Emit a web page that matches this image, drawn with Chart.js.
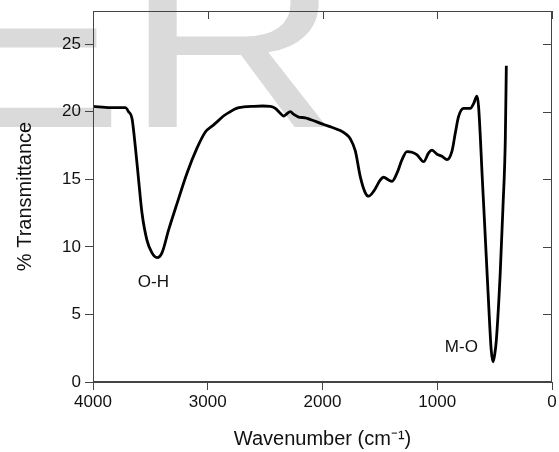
<!DOCTYPE html>
<html>
<head>
<meta charset="utf-8">
<script src="https://cdn.jsdelivr.net/npm/chart.js@4.4.0/dist/chart.umd.min.js"></script>
<style>
  html, body { margin: 0; padding: 0; background: #fff; }
  #wrap { width: 559px; height: 452px; }
</style>
</head>
<body>
<div id="wrap"><canvas id="ftir" width="559" height="452"></canvas></div>
<script>
// FTIR spectrum
var wavenumber = [4000, 3850, 3760, 3718, 3690, 3660, 3631, 3603, 3573, 3530, 3486, 3442, 3399, 3341, 3268, 3181, 3094, 3021, 2960, 2919,
    2860, 2804, 2750, 2688, 2600, 2520, 2455, 2411, 2370, 2339, 2310, 2281, 2250, 2208, 2150, 2106, 2050, 1990, 1920, 1845,
    1790, 1758, 1714, 1671, 1627, 1598, 1555, 1496, 1468, 1424, 1394, 1351, 1307, 1264, 1220, 1176, 1119, 1075, 1046, 1002,
    959, 915, 871, 843, 814, 770, 740, 712, 683, 654, 640, 625, 610, 595, 573, 544, 530, 514, 500, 485, 451, 427, 407, 398];
var transmittance = [20.4, 20.3, 20.3, 20.3, 20.0, 19.5, 17.4, 15.0, 12.5, 10.5, 9.55, 9.2, 9.55, 11.25, 13.2, 15.45, 17.3, 18.5, 18.95, 19.25,
    19.7, 20.0, 20.25, 20.35, 20.4, 20.42, 20.4, 20.25, 19.9, 19.68, 19.85, 20.0, 19.8, 19.6, 19.55, 19.42, 19.25, 19.05, 18.85, 18.6,
    18.3, 18.0, 17.1, 15.2, 14.0, 13.75, 14.1, 14.95, 15.15, 14.95, 14.85, 15.45, 16.45, 17.05, 17.0, 16.8, 16.3, 16.95, 17.15, 16.85,
    16.7, 16.45, 17.1, 18.4, 19.65, 20.25, 20.25, 20.25, 20.6, 21.15, 20.4, 18.2, 15.5, 13.0, 9.3, 4.4, 2.4, 1.5, 2.0, 3.1, 8.1, 13.0, 17.9, 23.4];

var xTicks = [4000, 3000, 2000, 1000, 0];
var yTicks = [0, 5, 10, 15, 20, 25];

// band labels
var bandNames = ["O-H", "M-O"];
var bandX = [3474, 790];
var bandY = [7.4, 2.55];

var fontFam = "'Liberation Sans', Arial, sans-serif";
var frameColor = "#444";

var points = [];
for (var i = 0; i < wavenumber.length; i++) {
    points.push({ x: wavenumber[i], y: transmittance[i] });
}

var decorPlugin = {
    id: "decor",
    beforeDraw: function (chart) {
        var ctx = chart.ctx;
        ctx.save();
        ctx.fillStyle = "#fff";
        ctx.fillRect(0, 0, chart.width, chart.height);
        // watermark, squashed a bit to match the source
        ctx.fillStyle = "#dadada";
        ctx.font = "300px " + fontFam;
        ctx.textBaseline = "alphabetic";
        ctx.textAlign = "left";
        ctx.translate(0, 127);
        ctx.scale(1, 0.84);
        ctx.fillText("ER", -76, 0);
        ctx.restore();
    },
    afterDraw: function (chart) {
        var ctx = chart.ctx;
        var a = chart.chartArea;
        var xs = chart.scales.x, ys = chart.scales.y;
        ctx.save();
        ctx.strokeStyle = frameColor;
        ctx.lineWidth = 1;
        ctx.strokeRect(a.left + 0.5, a.top + 0.5, a.right - a.left - 1, a.bottom - a.top - 1);
        ctx.beginPath();
        xTicks.forEach(function (v) {
            var px = Math.round(xs.getPixelForValue(v)) + 0.5;
            ctx.moveTo(px, a.top);
            ctx.lineTo(px, a.top + 8);
        });
        yTicks.forEach(function (v) {
            var py = Math.round(ys.getPixelForValue(v)) + 0.5;
            ctx.moveTo(a.right, py);
            ctx.lineTo(a.right - 9, py);
        });
        ctx.stroke();

        ctx.fillStyle = "#111";
        ctx.font = "17px " + fontFam;
        ctx.textAlign = "center";
        ctx.textBaseline = "middle";
        for (var k = 0; k < bandNames.length; k++) {
            ctx.fillText(bandNames[k], xs.getPixelForValue(bandX[k]), ys.getPixelForValue(bandY[k]));
        }
        ctx.restore();
    }
};

new Chart(document.getElementById("ftir"), {
    type: "scatter",
    data: {
        datasets: [
            {
                data: points,
                showLine: true,
                borderColor: "#000",
                borderWidth: 2.8,
                pointRadius: 0,
                cubicInterpolationMode: "monotone",
                fill: false
            }
        ]
    },
    plugins: [decorPlugin],
    options: {
        responsive: false,
        animation: false,
        layout: { padding: { top: 11, right: 7, left: 0, bottom: 0 } },
        plugins: {
            legend: { display: false },
            tooltip: { enabled: false }
        },
        scales: {
            x: {
                type: "linear",
                reverse: true,
                min: 0,
                max: 4000,
                afterFit: function (s) {
                    s.height = 70;
                    s.paddingLeft = 0;
                    s.paddingRight = 0;
                },
                afterBuildTicks: function (s) { s.ticks = xTicks.map(function (v) { return { value: v }; }); },
                grid: { drawOnChartArea: false, drawTicks: true, tickLength: 8, color: frameColor },
                border: { display: true, color: frameColor, width: 1 },
                ticks: {
                    color: "#111",
                    padding: 2,
                    maxRotation: 0,
                    font: { family: fontFam, size: 17 },
                    callback: function (v) { return String(v); }
                },
                title: {
                    display: true,
                    text: "Wavenumber (cm⁻¹)",
                    color: "#111",
                    padding: { top: 0, bottom: 1 },
                    font: { family: fontFam, size: 20 }
                }
            },
            y: {
                type: "linear",
                min: 0,
                max: 27.45,
                afterFit: function (s) {
                    s.width = 93;
                    s.paddingTop = 0;
                    s.paddingBottom = 0;
                },
                afterBuildTicks: function (s) { s.ticks = yTicks.map(function (v) { return { value: v }; }); },
                grid: { drawOnChartArea: false, drawTicks: true, tickLength: 8, color: frameColor },
                border: { display: true, color: frameColor, width: 1 },
                ticks: {
                    color: "#111",
                    padding: 4,
                    font: { family: fontFam, size: 17 },
                    callback: function (v) { return String(v); }
                },
                title: {
                    display: true,
                    text: "% Transmittance",
                    color: "#111",
                    padding: { top: 13, bottom: 0 },
                    font: { family: fontFam, size: 20 }
                }
            }
        }
    }
});
</script>
</body>
</html>
